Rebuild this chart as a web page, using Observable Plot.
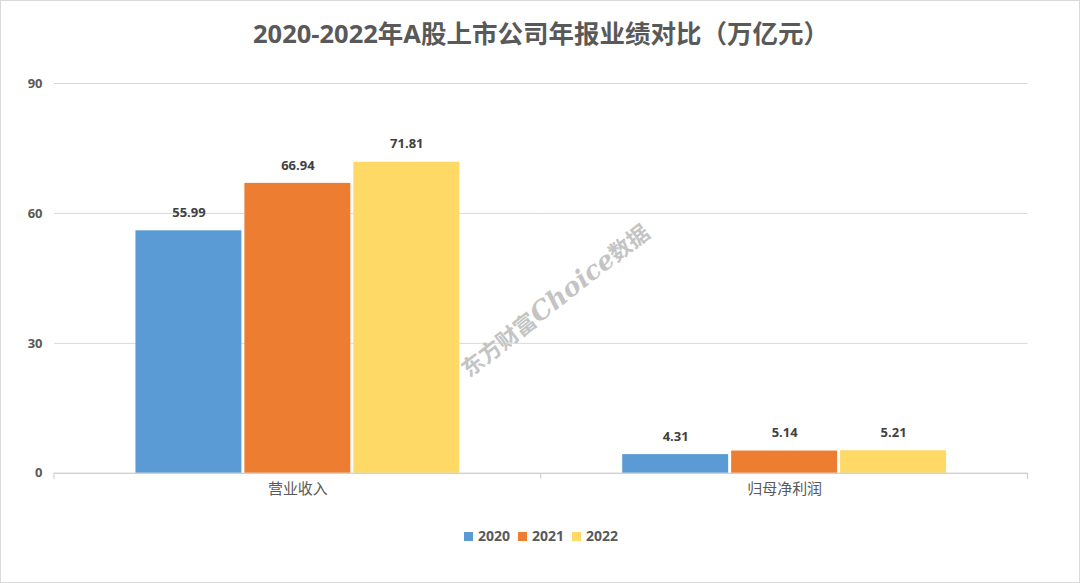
<!DOCTYPE html>
<html>
<head>
<meta charset="utf-8">
<script src="https://cdn.jsdelivr.net/npm/d3@7"></script>
<script src="https://cdn.jsdelivr.net/npm/@observablehq/plot@0.6"></script>
<style>
  html, body { margin: 0; padding: 0; background: #fff; }
  #page { position: relative; width: 1080px; height: 583px; box-sizing: border-box; border: 1.5px solid #d9d9d9; overflow: hidden;
    font-family: "Open Sans", "Noto Sans CJK SC", sans-serif; }
  #title { position: absolute; left: 0; top: 0; width: 1080px; height: 60px; line-height: 64px; text-align: center;
    font-size: 25.5px; font-weight: bold; color: #595959; }
  #chart { position: absolute; left: -1.5px; top: 57px; }
  #legend { position: absolute; left: 0; top: 525px; width: 1080px; text-align: center; font-size: 14px; font-weight: bold; color: #595959; }
  #legend span.item { display: inline-block; margin: 0 4px 0 4px; }
  #legend span.sw { display: inline-block; width: 9px; height: 9px; margin-right: 5px; vertical-align: 0px; }
  #wm { position: absolute; left: 553px; top: 298px; transform: translate(-50%, -50%) rotate(-38deg); white-space: nowrap;
    font-size: 22px; font-weight: bold; color: #c4c4c4; font-family: "Noto Sans CJK SC", serif; }
  #wm i { font-family: "DejaVu Serif", serif; font-size: 26px; }
</style>
</head>
<body>
<div id="page">
  <div id="title">2020-2022年A股上市公司年报业绩对比（万亿元）</div>
  <div id="chart"></div>
  <div id="wm">东方财富<i>Choice</i>数据</div>
  <div id="legend"></div>
</div>
<script>
const categories = ["营业收入", "归母净利润"];
const years = ["2020", "2021", "2022"];
const values2020 = [55.99, 4.31];
const values2021 = [66.94, 5.14];
const values2022 = [71.81, 5.21];
const colors = ["#5B9BD5", "#ED7D31", "#FFD966"];
const yTicks = [0, 30, 60, 90];

const series = [values2020, values2021, values2022];
const data = [];
categories.forEach((c, i) => years.forEach((y, j) => data.push({cat: c, year: y, value: series[j][i]})));

const chart = Plot.plot({
  width: 1080, height: 452,
  marginLeft: 53.5, marginRight: 52.5, marginTop: 25, marginBottom: 37,
  style: {fontFamily: '"Open Sans", "Noto Sans CJK SC", sans-serif', background: "transparent"},
  fx: {domain: categories, padding: 0, label: null},
  x: {domain: years, paddingInner: 0.027, paddingOuter: 0.734, axis: null},
  y: {domain: [0, 90], label: null},
  color: {domain: years, range: colors},
  marks: [
    Plot.gridY(yTicks, {stroke: "#d9d9d9", strokeOpacity: 1, strokeWidth: 1}),
    Plot.axisY(yTicks, {tickSize: 0, tickPadding: 12, fontSize: 13, fontWeight: "bold", fill: "#595959", label: null}),
    Plot.axisFx({anchor: "bottom", tickSize: 0, tickPadding: 10, fontSize: 15, fill: "#595959", label: null}),
    Plot.barY(data, {fx: "cat", x: "year", y: "value", fill: "year"}),
    Plot.ruleY([0], {stroke: "#d0d0d0", strokeWidth: 1.2}),
    Plot.text(data, {fx: "cat", x: "year", y: "value", text: d => d.value.toFixed(2), dy: -18,
      fontSize: 13, fontWeight: "bold", fill: "#404040"})
  ]
});
document.getElementById("chart").appendChild(chart);

// category boundary ticks on the baseline, from the fx scale
const fx = chart.scale("fx");
const yS = chart.scale("y");
const svg = d3.select(chart);
const y0 = yS.apply(0);
const edges = [];
categories.forEach(c => edges.push(fx.apply(c)));
edges.push(fx.apply(categories[categories.length - 1]) + fx.bandwidth);
svg.append("g").selectAll("line").data(edges).join("line")
  .attr("x1", d => d).attr("x2", d => d)
  .attr("y1", y0).attr("y2", y0 + 6)
  .attr("stroke", "#d0d0d0").attr("stroke-width", 1.2);

// legend
const leg = d3.select("#legend");
years.forEach((y, i) => {
  const it = leg.append("span").attr("class", "item");
  it.append("span").attr("class", "sw").style("background", colors[i]);
  it.append("span").text(y);
});
</script>
</body>
</html>
